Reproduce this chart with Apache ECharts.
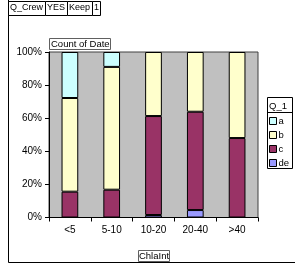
<!DOCTYPE html>
<html>
<head>
<meta charset="utf-8">
<script src="https://cdn.jsdelivr.net/npm/echarts@6/dist/echarts.min.js"></script>
<style>
  html, body {margin: 0; padding: 0; background: #fff;}
  #chart {width: 295px; height: 266px;}
</style>
</head>
<body>
<div id="chart"></div>
<script>
// pivot chart: share of Count of Date per ChlaInt bin, split by Q_1
const categories = ['<5', '5-10', '10-20', '20-40', '>40'];
const valA = [27.8, 9.0, 0, 0, 0];
const valB = [56.6, 74.2, 38.7, 36.1, 52.0];
const valC = [15.6, 16.8, 59.8, 59.4, 48.0];
const valDe = [0, 0, 1.5, 4.5, 0];
const yTicks = [0, 20, 40, 60, 80, 100];
const headerCells = ['Q_Crew', 'YES', 'Keep', '1'];

const font = 'Liberation Sans, Arial, sans-serif';
const colors = {a: '#CCFFFF', b: '#FFFFCC', c: '#993366', de: '#9999FF'};

const nz = arr => arr.map(v => (v === 0 ? null : v));

function barSeries(name, data) {
  return {
    name: name,
    type: 'bar',
    stack: 'total',
    barWidth: '40%',
    data: nz(data),
    itemStyle: {color: colors[name], borderColor: '#000', borderWidth: 1},
    emphasis: {disabled: true}
  };
}

// header cells (page field row)
const cellX = [8, 45, 67, 92, 100];
const headerGraphics = [];
headerCells.forEach((t, i) => {
  headerGraphics.push({
    type: 'rect',
    shape: {x: cellX[i] + 0.5, y: 1.5, width: cellX[i + 1] - cellX[i], height: 14},
    style: {fill: '#fff', stroke: '#000', lineWidth: 1}
  });
  headerGraphics.push({
    type: 'text',
    x: cellX[i] + 2, y: 3,
    style: {text: t, font: '9px ' + font, fill: '#000'}
  });
});

const myChart = echarts.init(document.getElementById('chart'));
myChart.setOption({
  animation: false,
  textStyle: {fontFamily: font},
  grid: {
    left: 49, right: 37, top: 52, bottom: 48.5,
    show: true, backgroundColor: '#C0C0C0', borderColor: '#404040', borderWidth: 1
  },
  xAxis: {
    type: 'category',
    data: categories,
    axisLine: {lineStyle: {color: '#000'}},
    axisTick: {show: true, length: 4, lineStyle: {color: '#000'}},
    axisLabel: {color: '#000', fontSize: 10, margin: 8}
  },
  yAxis: {
    type: 'value',
    min: yTicks[0],
    max: yTicks[yTicks.length - 1],
    interval: yTicks[1] - yTicks[0],
    splitLine: {show: false},
    axisLine: {show: true, lineStyle: {color: '#000'}},
    axisTick: {show: true, length: 4, lineStyle: {color: '#000'}},
    axisLabel: {color: '#000', fontSize: 10, margin: 7, formatter: '{value}%'}
  },
  legend: {
    orient: 'vertical',
    left: 269,
    top: 116,
    padding: 0,
    data: ['a', 'b', 'c', 'de'],
    itemWidth: 7,
    itemHeight: 7,
    itemGap: 4,
    icon: 'rect',
    selectedMode: false,
    textStyle: {color: '#000', fontSize: 9.5, lineHeight: 10, padding: [0, 0, 0, -3]},
    itemStyle: {borderColor: '#000', borderWidth: 1}
  },
  series: [
    barSeries('de', valDe),
    barSeries('c', valC),
    barSeries('b', valB),
    barSeries('a', valA)
  ],
  graphic: [
    // outer frame: left and bottom edges
    {
      type: 'polyline',
      shape: {points: [[8.5, 0], [8.5, 262.5], [295, 262.5]]},
      style: {stroke: '#000', lineWidth: 1, fill: null}
    },
    ...headerGraphics,
    // data field button
    {
      type: 'rect',
      shape: {x: 49.5, y: 38.5, width: 61, height: 11},
      style: {fill: '#fff', stroke: '#606060', lineWidth: 1}
    },
    {
      type: 'text',
      x: 51, y: 39.5,
      style: {text: 'Count of Date', font: '9.5px ' + font, fill: '#000'}
    },
    // category field button
    {
      type: 'rect',
      shape: {x: 138.5, y: 250.5, width: 31, height: 11},
      style: {fill: '#fff', stroke: '#606060', lineWidth: 1}
    },
    {
      type: 'text',
      x: 154, y: 251.5,
      style: {text: 'ChlaInt', font: '9.5px ' + font, fill: '#000', textAlign: 'center'}
    },
    // legend box with series field
    {
      type: 'rect',
      shape: {x: 267.5, y: 97.5, width: 25, height: 71},
      style: {fill: '#fff', stroke: '#000', lineWidth: 1},
      z: -1
    },
    {
      type: 'line',
      shape: {x1: 267.5, y1: 112.5, x2: 292.5, y2: 112.5},
      style: {stroke: '#000', lineWidth: 1}
    },
    {
      type: 'text',
      x: 269, y: 101,
      style: {text: 'Q_1', font: '9.5px ' + font, fill: '#000'}
    }
  ]
});
</script>
</body>
</html>
